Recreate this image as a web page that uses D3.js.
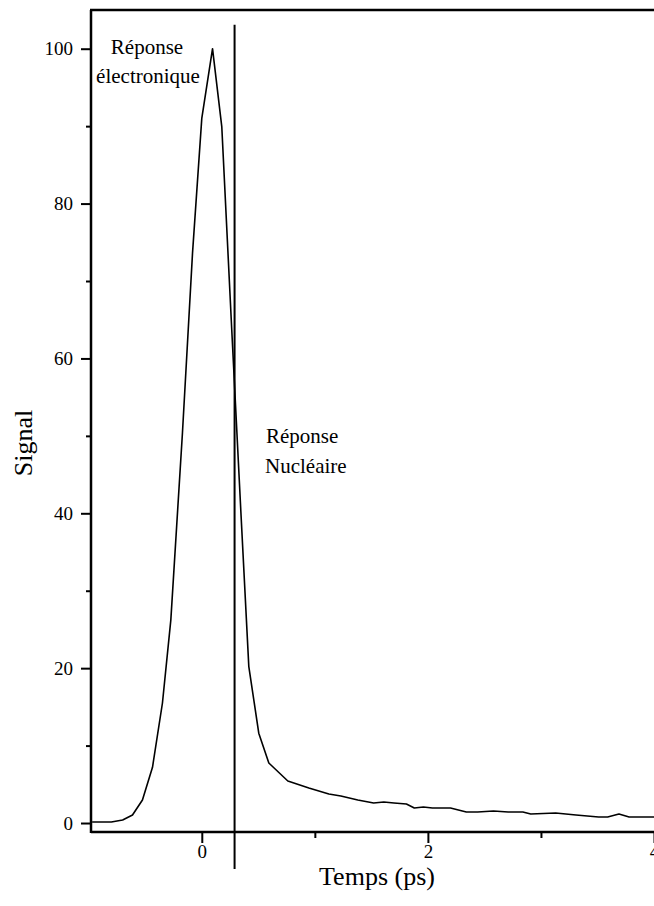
<!DOCTYPE html>
<html>
<head>
<meta charset="utf-8">
<script src="https://cdn.jsdelivr.net/npm/d3@7"></script>
<style>
  html, body { margin: 0; padding: 0; background: #fff; }
  svg { display: block; }
  text { font-family: "Liberation Serif", "Times New Roman", serif; fill: #000; }
</style>
</head>
<body>
<svg id="chart" width="654" height="906"></svg>
<script>
// ---- data ----
const times = [-0.97, -0.80, -0.70, -0.613, -0.525, -0.436, -0.348, -0.274, -0.171, -0.082,
  0.0, 0.095, 0.177, 0.265, 0.345, 0.416, 0.504, 0.593, 0.761, 0.947,
  1.124, 1.23, 1.38, 1.52, 1.61, 1.70, 1.81, 1.88, 1.96, 2.04,
  2.20, 2.34, 2.44, 2.58, 2.71, 2.84, 2.91, 3.13, 3.31, 3.51,
  3.59, 3.69, 3.78, 4.01];
const signal = [0.13, 0.13, 0.39, 1.03, 2.97, 7.2, 15.5, 26.2, 50.4, 73.6,
  91.0, 100.0, 89.9, 63.7, 40.4, 20.2, 11.6, 7.75, 5.43, 4.52,
  3.75, 3.49, 2.97, 2.58, 2.71, 2.58, 2.45, 1.94, 2.07, 1.94,
  1.94, 1.42, 1.42, 1.55, 1.42, 1.42, 1.16, 1.29, 1.03, 0.78,
  0.78, 1.16, 0.78, 0.78];
const yMajorTicks = [0, 20, 40, 60, 80, 100];
const yMinorTicks = [10, 30, 50, 70, 90];
const xMajorTicks = [0, 2, 4];
const xMinorTicks = [1, 3];
const dividerTime = 0.29;
const xLabel = "Temps (ps)";
const yLabel = "Signal";
const annElectronic = ["Réponse", "électronique"];
const annNuclear = ["Réponse", "Nucléaire"];

// ---- layout ----
const svg = d3.select("#chart");
const mLeft = 91, mRight = 654, mTop = 10, mBottom = 832;
const x = d3.scaleLinear().domain([-0.98, 4.0]).range([mLeft, mRight]);
const y = d3.scaleLinear().domain([-1.16, 105]).range([mBottom, mTop]);

// curve
const line = d3.line().x((d, i) => x(times[i])).y((d, i) => y(signal[i]));
svg.append("path")
  .datum(signal)
  .attr("d", line)
  .attr("fill", "none")
  .attr("stroke", "#000")
  .attr("stroke-width", 1.6)
  .attr("stroke-linejoin", "round");

// divider line
svg.append("line")
  .attr("x1", x(dividerTime)).attr("x2", x(dividerTime))
  .attr("y1", y(103.1)).attr("y2", y(0) + 46)
  .attr("stroke", "#000").attr("stroke-width", 2);

// axes
const fs = 19;
const yAxis = svg.append("g").attr("transform", `translate(${mLeft},0)`)
  .call(d3.axisLeft(y).tickValues(yMajorTicks).tickSize(10).tickPadding(8).tickSizeOuter(0).tickFormat(d3.format("d")));
const yAxisMinor = svg.append("g").attr("transform", `translate(${mLeft},0)`)
  .call(d3.axisLeft(y).tickValues(yMinorTicks).tickSize(5).tickFormat(""));
const xAxis = svg.append("g").attr("transform", `translate(0,${mBottom})`)
  .call(d3.axisBottom(x).tickValues(xMajorTicks).tickSize(11).tickPadding(2).tickSizeOuter(0).tickFormat(d3.format("d")));
const xAxisMinor = svg.append("g").attr("transform", `translate(0,${mBottom})`)
  .call(d3.axisBottom(x).tickValues(xMinorTicks).tickSize(6).tickFormat(""));

[yAxis, yAxisMinor, xAxis, xAxisMinor].forEach(g => {
  g.select(".domain").remove();
  g.selectAll(".tick line").attr("stroke", "#000").attr("stroke-width", 2);
  g.selectAll("text").attr("font-family", "Liberation Serif").attr("font-size", fs).attr("fill", "#000");
});

// frame lines
svg.append("line").attr("x1", mLeft).attr("x2", mLeft).attr("y1", mTop).attr("y2", mBottom + 1)
  .attr("stroke", "#000").attr("stroke-width", 2.5);
svg.append("line").attr("x1", mLeft).attr("x2", mRight + 2).attr("y1", mBottom).attr("y2", mBottom)
  .attr("stroke", "#000").attr("stroke-width", 2.5);
svg.append("line").attr("x1", mLeft - 1).attr("x2", mRight + 2).attr("y1", mTop).attr("y2", mTop)
  .attr("stroke", "#000").attr("stroke-width", 2.5);

// axis titles
svg.append("text").attr("x", 377).attr("y", 885)
  .attr("text-anchor", "middle").attr("font-size", 26).text(xLabel);
svg.append("text").attr("transform", "translate(32,443) rotate(-90)")
  .attr("text-anchor", "middle").attr("font-size", 26).text(yLabel);

// annotations
svg.append("text").attr("x", 147).attr("y", 54).attr("text-anchor", "middle")
  .attr("font-size", 21).text(annElectronic[0]);
svg.append("text").attr("x", 148).attr("y", 83).attr("text-anchor", "middle")
  .attr("font-size", 21).text(annElectronic[1]);
svg.append("text").attr("x", 266).attr("y", 443).attr("text-anchor", "start")
  .attr("font-size", 21).text(annNuclear[0]);
svg.append("text").attr("x", 265).attr("y", 473).attr("text-anchor", "start")
  .attr("font-size", 21).text(annNuclear[1]);
</script>
</body>
</html>
